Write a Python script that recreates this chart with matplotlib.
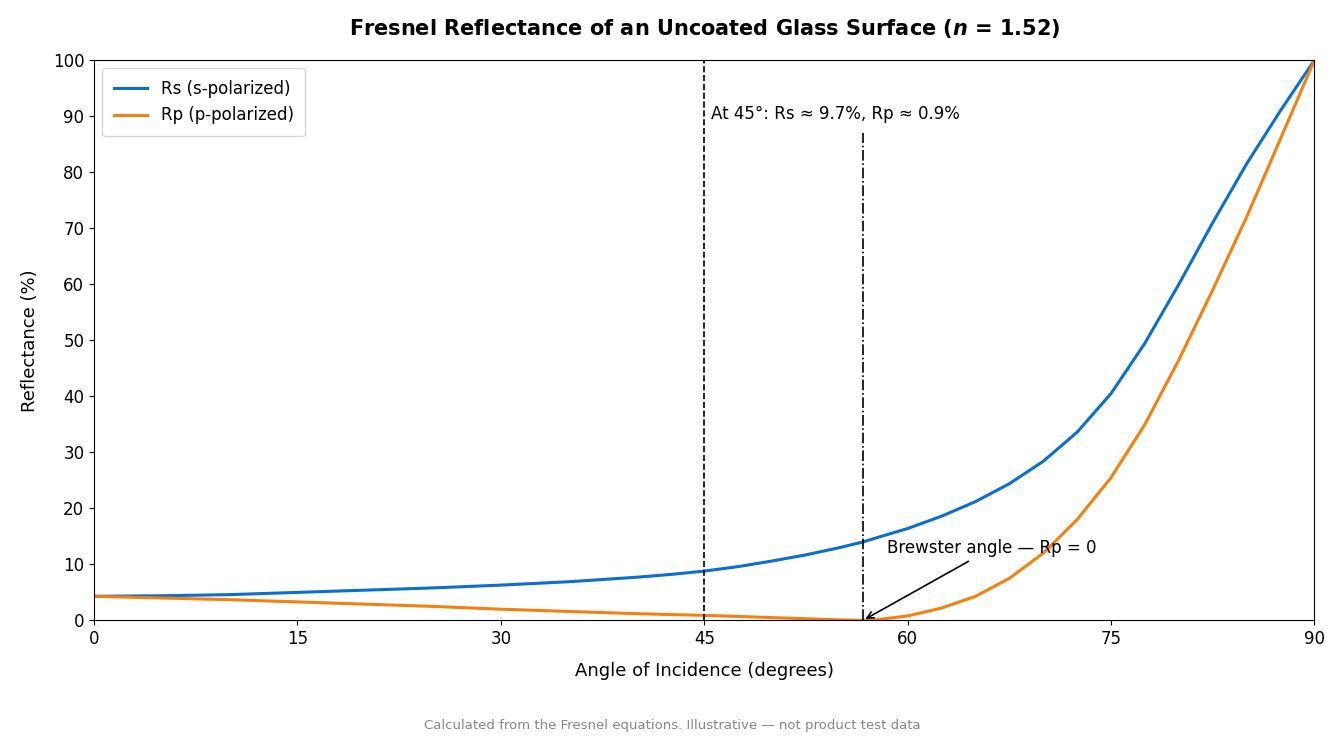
import matplotlib as mpl
mpl.use("Agg")
import matplotlib.pyplot as plt

# values
angle = [0, 5, 10, 15, 20, 25, 30, 35, 40, 42.5, 45, 47.5, 50, 52.5, 55, 56.7, 57.5, 60, 62.5, 65, 67.5,
         70, 72.5, 75, 77.5, 80, 82.5, 85, 87.5, 90]
rs = [4.3, 4.4, 4.6, 5.0, 5.4, 5.8, 6.3, 6.9, 7.7, 8.2, 8.8, 9.6, 10.6, 11.7, 13.0, 14.0, 14.6, 16.4, 18.6, 21.2,
      24.4, 28.4, 33.6, 40.5, 49.5, 60.0, 71.0, 81.5, 91.0, 100.0]
rp = [4.3, 4.0, 3.7, 3.3, 2.9, 2.5, 2.0, 1.6, 1.2, 1.05, 0.9, 0.7, 0.5, 0.3, 0.1, 0.0, 0.05, 0.8, 2.2, 4.3,
      7.5, 12.0, 18.0, 25.5, 35.0, 46.5, 59.0, 72.0, 86.0, 100.0]
brewster = 56.7

plt.rcParams["font.family"] = ["DejaVu Sans"]
fig, ax = plt.subplots(figsize=(13.44, 7.52), dpi=100)
ax.plot(angle, rs, color="#0b6fcf", lw=2.2, label="Rs (s-polarized)")
ax.plot(angle, rp, color="#f5800f", lw=2.2, label="Rp (p-polarized)")
ax.plot([45, 45], [0, 100], color="black", ls="--", lw=1.2)
ax.plot([brewster, brewster], [0, 87], color="black", ls="-.", lw=1.2)
ax.text(45.5, 89.5, "At 45°: Rs ≈ 9.7%, Rp ≈ 0.9%", fontsize=12)
ax.annotate("Brewster angle — Rp = 0", xy=(brewster, 0), xytext=(58.5, 12),
            fontsize=12, arrowprops=dict(arrowstyle="->", color="black", lw=1.2))
ax.set_xlim(0, 90)
ax.set_ylim(0, 100)
ax.set_xticks([0, 15, 30, 45, 60, 75, 90])
ax.set_yticks(range(0, 101, 10))
ax.tick_params(labelsize=12)
ax.set_xlabel("Angle of Incidence (degrees)", fontsize=13, labelpad=10)
ax.set_ylabel("Reflectance (%)", fontsize=13, labelpad=10)
ax.set_title("Fresnel Reflectance of an Uncoated Glass Surface ($\\boldsymbol{n}$ = 1.52)",
             fontsize=15, fontweight="bold", pad=18)
ax.legend(loc="upper left", fontsize=12, borderpad=0.7)
fig.text(0.5, 0.03, "Calculated from the Fresnel equations. Illustrative — not product test data",
         ha="center", fontsize=9.5, color="#888888")
plt.subplots_adjust(left=0.07, right=0.978, top=0.92, bottom=0.175)
plt.savefig("out.png")
